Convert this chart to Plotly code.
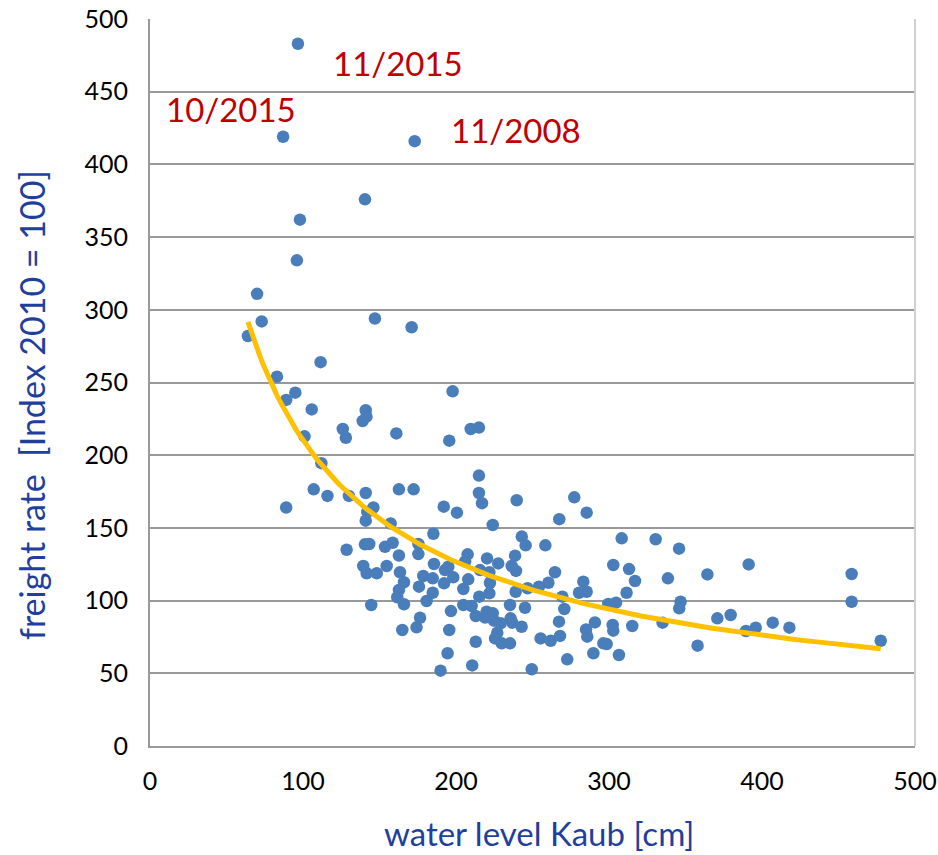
import numpy as np
import plotly.graph_objects as go

# water level Kaub [cm] vs freight rate index (2010 = 100)
water_level = [
    96.7, 87, 173, 140.5, 98, 96, 70, 73, 64, 147, 171, 111.5, 83, 95, 89, 197.8,
    105.7, 141, 141.5, 139, 126, 128, 101, 161, 209.6, 215, 195.6, 112, 107, 116,
    130, 141, 146, 142, 141, 162.7, 172.3, 89, 215, 215, 217, 192, 200.6, 157.3,
    185.2, 224, 239.7, 277.3, 285.4, 267.5, 243, 245.5, 258.4, 308.3, 330.5, 345.8,
    128.5, 140.5, 143.3, 153.6, 158.6, 175.4, 175.4, 162.7, 139.4, 141.6, 148.2,
    154.7, 163.4, 166, 162.7, 161.6, 166, 144.6, 185.6, 178.6, 184.8, 175.8, 184.8,
    180.8, 192.8, 195, 198.2, 192.2, 204.8, 208, 207.6, 206, 204.8, 210.2, 215.2,
    196.7, 212.9, 219, 176.5, 174.2, 164.9, 195.6, 212.9, 194.5, 210.6, 189.9,
    220.3, 215.7, 221.8, 227.6, 238.6, 236.4, 239.2, 222.2, 221.8, 239, 246.8,
    254.2, 260.4, 264.7, 235.3, 245.1, 220, 224, 224.8, 229.2, 235.7, 236.8, 242.9,
    227, 225.5, 229.9, 235.3, 255.3, 261.9, 268, 249.5, 272.7, 269.5, 270.8, 267.3,
    283.2, 280.4, 285.4, 302.8, 313.1, 317, 311.5, 299.5, 304.6, 290.8, 302.4,
    302.8, 315.2, 285, 285.8, 296.3, 298.5, 289.8, 306.5, 335, 338.5, 364.3, 391.3,
    458.6, 458.6, 346.8, 345.9, 370.8, 379.5, 389.5, 395.9, 407, 417.9, 357.9, 477.6,
]
freight_rate = [
    483, 419, 416, 376, 362, 334, 311, 292, 282, 294, 288, 264, 254, 243, 238, 244,
    231.5, 231, 226.5, 223.5, 218, 212, 213, 215, 218, 219, 210, 194.5, 176.5, 172,
    172, 174, 164, 161, 155, 176.5, 176.5, 164, 186, 174, 167, 164.6, 160.5, 153,
    146, 152, 169, 171, 160.5, 156, 144, 138, 138, 142.8, 142.2, 135.7,
    135, 138.7, 138.9, 137, 139.8, 139, 132, 131, 123.8, 118.8, 118.8,
    123.8, 119.5, 112.6, 107.3, 102.3, 97.5, 97, 125.2, 116.9, 115.3, 109.6, 105.4,
    99.7, 121, 123.3, 116, 111.9, 108, 114.6, 131.8, 127, 97, 96.3, 102.7,
    92.8, 89.4, 88.3, 88.2, 81.6, 79.8, 79.8, 71.7, 63.8, 55.4, 51.8,
    129, 121, 119.5, 125.6, 130.9, 123.8, 120.4, 112.3, 105, 106.1, 108.5,
    109.6, 112.3, 119.5, 97, 95.1, 92.4, 91.3, 86.2, 84.4, 87.8, 84.8, 82,
    77.9, 74, 70.6, 70.6, 74, 72.4, 75.7, 52.8, 59.6, 102.7, 94.2, 85.5,
    113, 105.4, 106.1, 124.5, 121.7, 113.5, 105.4, 97.7, 98.6, 85, 83.2,
    79.3, 82.5, 80.2, 75.2, 70.6, 70.1, 63.8, 62.6, 84.8, 115.3, 118, 124.9,
    118.3, 99.2, 99.2, 94.7, 87.8, 90.1, 79.1, 81.4, 84.8, 81.4, 69, 72.4,
]

callout_labels = ["11/2015", "10/2015", "11/2008"]
callout_x = [162, 53, 239]
callout_y = [470, 438, 424]

blue = "#4a7ebb"
title_blue = "#1f3f9f"
grid_gray = "#999999"

# power trendline (as Excel does it): fit log y = b log x + log a
x = np.array(water_level)
y = np.array(freight_rate)
b, log_a = np.polyfit(np.log(x), np.log(y), 1)
x_fit = np.linspace(x.min(), x.max(), 200)
y_fit = np.exp(log_a) * x_fit ** b

fig = go.Figure()
fig.add_trace(go.Scatter(
    x=water_level, y=freight_rate, mode="markers",
    marker=dict(color=blue, size=12.5, line=dict(width=0)),
    showlegend=False,
))
fig.add_trace(go.Scatter(
    x=x_fit, y=y_fit, mode="lines",
    line=dict(color="#ffc000", width=5),
    showlegend=False,
))

for lab, lx, ly in zip(callout_labels, callout_x, callout_y):
    fig.add_annotation(x=lx, y=ly, text=lab, showarrow=False,
                       font=dict(family="Lato", size=33, color="#c00000"))

# axis titles as annotations so they sit where the original has them
fig.add_annotation(xref="paper", yref="paper", x=0, y=0.469, xshift=-119,
                   text="freight rate  [Index 2010 = 100]", textangle=-90,
                   showarrow=False, xanchor="center", yanchor="middle",
                   font=dict(size=34, color=title_blue))
fig.add_annotation(xref="paper", yref="paper", x=0.508, y=0, yshift=-87,
                   text="water level Kaub [cm]",
                   showarrow=False, xanchor="center", yanchor="middle",
                   font=dict(size=33, color=title_blue))

# light border on the right side of the plot area
fig.add_shape(type="line", xref="paper", yref="paper", x0=1, x1=1, y0=0, y1=1,
              line=dict(color="#d0d0d0", width=2))

fig.update_layout(
    width=938, height=855,
    margin=dict(l=150, r=23, t=19, b=109),
    plot_bgcolor="white", paper_bgcolor="white",
    font=dict(family="Lato", size=25, color="black"),
    xaxis=dict(
        range=[0, 500], dtick=100, showgrid=False, zeroline=False,
        showline=True, linecolor=grid_gray, linewidth=2, ticks="",
        ticklabelstandoff=12, automargin=False,
    ),
    yaxis=dict(
        range=[0, 500], dtick=50, showgrid=True, gridcolor=grid_gray, gridwidth=2,
        zeroline=False, showline=True, linecolor=grid_gray, linewidth=2, ticks="",
        ticklabelstandoff=15, automargin=False,
    ),
)

# drop the default 8px page margin so the figure fills the window exactly
fig.write_html("out.html", config={"displayModeBar": False},
               post_script="document.body.style.margin='0';")
